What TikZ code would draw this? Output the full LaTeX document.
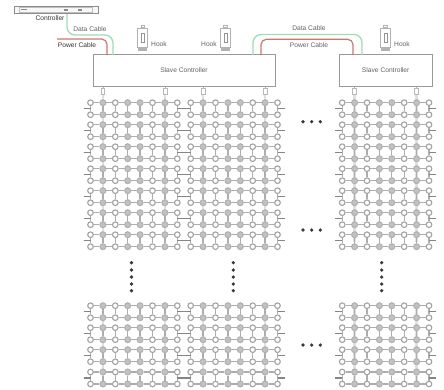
\documentclass[tikz,border=0pt]{standalone}
\usepackage{fontspec}
\setmainfont{Liberation Sans}
\usetikzlibrary{positioning}
\definecolor{datagreen}{RGB}{160,220,180}
\definecolor{powerred}{RGB}{200,120,110}

\begin{document}
\begin{tikzpicture}[
    x=0.75pt,y=-0.75pt,
    font=\fontsize{5}{6}\selectfont,
    label/.style={text=black!62,inner sep=0pt},
    boldlabel/.style={text=black!80,inner sep=0pt},
    slave/.style={rectangle,draw=black!40,line width=0.7pt,minimum height=24pt,text=black!62},
    opennode/.style={circle,draw=black!36,fill=white,line width=0.85pt,minimum size=4.2pt,inner sep=0pt},
    solidnode/.style={circle,draw=black!30,fill=black!24,line width=0.85pt,minimum size=4.4pt,inner sep=0pt},
    wire/.style={draw=black!32,line width=1pt},
    stub/.style={draw=black!48,line width=0.9pt},
    band/.style={draw=black!12,line width=1.8pt},
    plug/.style={rectangle,draw=black!28,fill=white,line width=0.5pt,minimum width=2.8pt,minimum height=4.6pt,inner sep=0pt},
    hookpart/.style={rectangle,draw=black!30,fill=white,line width=0.5pt,inner sep=0pt},
    datacable/.style={draw=datagreen,line width=1pt,rounded corners=6pt},
    powercable/.style={draw=powerred,line width=0.9pt,rounded corners=4pt},
    blackdot/.style={circle,fill=black!78,minimum size=2.7pt,inner sep=0pt}
]
\useasboundingbox (0,0) rectangle (444,390);

% controller
\node[rectangle,draw=black!45,fill=black!3,line width=0.5pt,minimum width=63pt,minimum height=5pt,inner sep=0pt] (controller) at (56,9.5) {};
\node[rectangle,draw=black!25,line width=0.3pt,minimum width=55pt,minimum height=3.4pt,inner sep=0pt] (controller_in) at (56,9.5) {};
\node[rectangle,fill=black!45,minimum width=5pt,minimum height=1.2pt,inner sep=0pt] (mark_a) at (24,9.5) {};
\node[rectangle,fill=black!45,minimum width=3pt,minimum height=1.2pt,inner sep=0pt] (mark_b) at (66,10) {};
\node[rectangle,fill=black!45,minimum width=3pt,minimum height=1.2pt,inner sep=0pt] (mark_c) at (80,10) {};
\node[boldlabel] (controller_text) at (50,18) {Controller};

% slave controllers
\node[slave,minimum width=136.5pt] (slave_a) at (184,70.5) {Slave Controller};
\node[slave,minimum width=69.5pt] (slave_b) at (385.7,70.5) {Slave Controller};

% cables
\coordinate (data_out) at (67,14);
\coordinate (data_in) at (113,55);
\coordinate (power_out) at (57,39);
\coordinate (power_in) at (107,55);
\coordinate (link_data_a) at (253,55);
\coordinate (link_data_b) at (362,55);
\coordinate (link_power_a) at (261,55);
\coordinate (link_power_b) at (353,55);
\coordinate (data_turn) at (90,35);
\coordinate (link_data_top) at (308,34.5);
\coordinate (link_power_top) at (308,39.3);
\draw[datacable] (data_out) |- (data_turn) -| (data_in);
\draw[powercable] (power_out) -| (power_in);
\draw[datacable] (link_data_a) |- (link_data_top) -| (link_data_b);
\draw[powercable] (link_power_a) |- (link_power_top) -| (link_power_b);
\node[label] (data_a) at (90,29.5) {Data Cable};
\node[boldlabel] (power_a) at (77,45) {Power Cable};
\node[label] (data_b) at (309,28) {Data Cable};
\node[label] (power_b) at (309,45) {Power Cable};

% hooks
\foreach \h/\hx in {a/142.7,b/225.5,c/385.5} {
    \node[hookpart,minimum width=2.6pt,minimum height=2.2pt] (hook_cap_\h) at (\hx,26.3) {};
    \node[hookpart,minimum width=7.4pt,minimum height=14pt] (hook_\h) at (\hx,37.5) {};
    \node[hookpart,minimum width=2.4pt,minimum height=7pt,draw=black!42] (hook_in_\h) at (\hx,38) {};
    \node[hookpart,minimum width=6pt,minimum height=1.6pt,fill=black!30] (hook_base_\h) at (\hx,49.5) {};
}
\node[label] (hook_text_a) at (159,44.5) {Hook};
\node[label] (hook_text_b) at (209,44.5) {Hook};
\node[label] (hook_text_c) at (402,44.5) {Hook};

% plugs under the slave controllers
\foreach \p/\px/\ps in {a/102.9/slave_a,b/165/slave_a,c/203.1/slave_a,d/265/slave_a,e/354.4/slave_b,f/416.4/slave_b} {
    \node[plug] (plug_\p) at (\px,91.5) {};
    \coordinate (band_top_\p) at (\px,242);
    \coordinate (band_low_a_\p) at (\px,306);
    \coordinate (band_low_b_\p) at (\px,384);
    \draw[band] (plug_\p.south) -- (band_top_\p);
    \draw[band] (band_low_a_\p) -- (band_low_b_\p);
    \draw[black!30,line width=0.5pt] (\ps.south -| plug_\p) -- (plug_\p.north);
}

% node grid
\foreach \m/\mx in {1/90.5,2/190.7,3/342.2} {
    \foreach \r/\ry in {1/108.7,2/130.7,3/152.7,4/174.7,5/196.7,6/218.7,7/240.7,8/311.7,9/333.7,10/355.7,11/378} {
        \foreach \c/\kind in {1/opennode,2/solidnode,3/opennode,4/solidnode,5/solidnode,6/opennode,7/solidnode,8/opennode} {
            \node[\kind] (t_\m_\r_\c) at ({\mx+12.4*(\c-1)},\ry-6) {};
            \node[\kind] (b_\m_\r_\c) at ({\mx+12.4*(\c-1)},\ry+6) {};
            \coordinate (mid_\m_\r_\c) at ({\mx+12.4*(\c-1)},\ry);
            \draw[wire] (t_\m_\r_\c) -- (b_\m_\r_\c);
        }
        \foreach \c/\d in {1/2,2/3,3/4,4/5,5/6,6/7,7/8} {
            \draw[wire] (t_\m_\r_\c) -- (t_\m_\r_\d);
            \draw[wire] (b_\m_\r_\c) -- (b_\m_\r_\d);
        }
        \coordinate (left_\m_\r) at (\mx-7,\ry);
        \coordinate (right_\m_\r) at (\mx+93.8,\ry);
    }
}
\foreach \r in {1,...,11} {
    \draw[stub] (left_1_\r) -- (mid_1_\r_1);
    \draw[stub] (mid_1_\r_8) -- (mid_2_\r_1);
    \draw[stub] (mid_2_\r_8) -- (right_2_\r);
    \draw[stub] (left_3_\r) -- (mid_3_\r_1);
    \draw[stub] (mid_3_\r_8) -- (right_3_\r);
}

% dots
\foreach \v/\vx in {a/131.5,b/233.3,c/381.7} {
    \foreach \n/\vy in {1/262.7,2/270,3/277,4/284,5/290.7} {
        \node[blackdot] (vdot_\v_\n) at (\vx,\vy) {};
    }
}
\foreach \s/\sy in {a/121.7,b/230,c/345} {
    \foreach \n/\sx in {1/303,2/311.7,3/320.3} {
        \node[blackdot] (hdot_\s_\n) at (\sx,\sy) {};
    }
}
\end{tikzpicture}
\end{document}
